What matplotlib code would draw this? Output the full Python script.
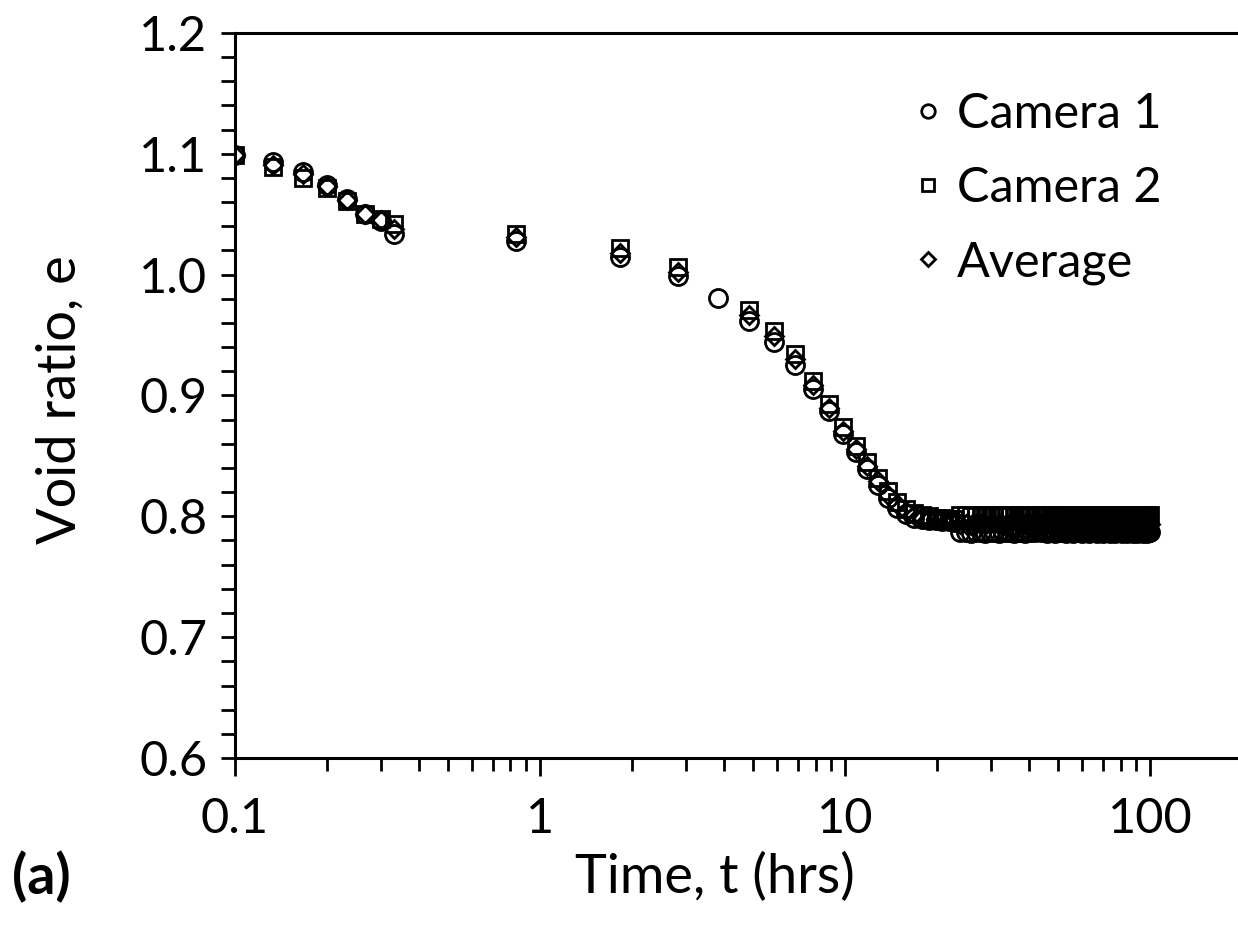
import numpy as np
import matplotlib
matplotlib.use('Agg')
import matplotlib.pyplot as plt
from matplotlib.ticker import MultipleLocator, LogLocator, FuncFormatter

plt.rcParams['font.family'] = ['Lato', 'DejaVu Sans']

# time in hours
t_early = [0.1, 0.133, 0.167, 0.2, 0.233, 0.267, 0.3, 0.333, 0.833, 1.833, 2.833]
t_mid = [3.833]  # camera 1 only
t_late = [4.83, 5.83, 6.83, 7.83, 8.83, 9.83, 10.83, 11.83, 12.83, 13.83,
          14.83, 15.83, 16.83, 17.83, 18.83, 19.83, 20.83, 21.83, 22.83, 23.83,
          24.83, 25.83, 26.83, 27.83, 28.83, 29.83, 30.83, 31.83, 32.83, 33.83,
          34.83, 35.83, 36.83, 37.83, 38.83, 39.83, 40.83, 41.83, 42.83, 43.83,
          44.83, 45.83, 46.83, 47.83, 48.83, 49.83, 50.83, 51.83, 52.83, 53.83,
          54.83, 55.83, 56.83, 57.83, 58.83, 59.83, 60.83, 61.83, 62.83, 63.83,
          64.83, 65.83, 66.83, 67.83, 68.83, 69.83, 70.83, 71.83, 72.83, 73.83,
          74.83, 75.83, 76.83, 77.83, 78.83, 79.83, 80.83, 81.83, 82.83, 83.83,
          84.83, 85.83, 86.83, 87.83, 88.83, 89.83, 90.83, 91.83, 92.83, 93.83,
          94.83, 95.83, 96.83, 97.83, 98.83, 99.83]

# void ratio, camera 1
e1_early = [1.099, 1.093, 1.085, 1.074, 1.063, 1.050, 1.044, 1.034, 1.028, 1.015, 0.999]
e1_mid = [0.981]
e1_late = [0.962, 0.944, 0.925, 0.905, 0.887, 0.868, 0.853, 0.839, 0.826, 0.815,
           0.807, 0.802, 0.799, 0.798, 0.797, 0.797, 0.796, 0.796, 0.795, 0.787,
           0.787, 0.786, 0.787, 0.787, 0.786, 0.787, 0.787, 0.786, 0.787, 0.787,
           0.787, 0.786, 0.787, 0.787, 0.786, 0.787, 0.787, 0.787, 0.788, 0.787,
           0.787, 0.786, 0.787, 0.787, 0.786, 0.787, 0.787, 0.787, 0.786, 0.787,
           0.787, 0.786, 0.787, 0.787, 0.787, 0.786, 0.787, 0.787, 0.786, 0.787,
           0.787, 0.787, 0.786, 0.787, 0.787, 0.786, 0.787, 0.787, 0.787, 0.786,
           0.787, 0.787, 0.786, 0.787, 0.787, 0.787, 0.786, 0.787, 0.787, 0.786,
           0.787, 0.787, 0.787, 0.786, 0.787, 0.787, 0.786, 0.787, 0.787, 0.787,
           0.786, 0.787, 0.787, 0.786, 0.787, 0.787]

# void ratio, camera 2
e2_early = [1.099, 1.089, 1.080, 1.072, 1.061, 1.050, 1.046, 1.042, 1.034, 1.022, 1.006]
e2_late = [0.971, 0.953, 0.934, 0.912, 0.893, 0.874, 0.858, 0.845, 0.832, 0.821,
           0.812, 0.806, 0.803, 0.801, 0.800, 0.799, 0.799, 0.798, 0.798, 0.801,
           0.801, 0.800, 0.801, 0.801, 0.800, 0.801, 0.801, 0.801, 0.800, 0.801,
           0.801, 0.800, 0.801, 0.801, 0.801, 0.800, 0.801, 0.801, 0.800, 0.801,
           0.801, 0.801, 0.800, 0.801, 0.801, 0.800, 0.801, 0.801, 0.801, 0.800,
           0.801, 0.801, 0.800, 0.801, 0.801, 0.801, 0.800, 0.801, 0.801, 0.800,
           0.801, 0.801, 0.801, 0.800, 0.801, 0.801, 0.800, 0.801, 0.801, 0.801,
           0.800, 0.801, 0.801, 0.800, 0.801, 0.801, 0.801, 0.800, 0.801, 0.801,
           0.800, 0.801, 0.801, 0.801, 0.800, 0.801, 0.801, 0.800, 0.801, 0.801,
           0.801, 0.800, 0.801, 0.801, 0.800, 0.801]

# average
ea_early = [1.099, 1.091, 1.083, 1.073, 1.062, 1.050, 1.045, 1.038, 1.031, 1.018, 1.002]
ea_late = [0.967, 0.949, 0.930, 0.909, 0.890, 0.871, 0.856, 0.842, 0.829, 0.818,
           0.810, 0.804, 0.801, 0.799, 0.798, 0.798, 0.797, 0.797, 0.797, 0.794,
           0.794, 0.793, 0.794, 0.794, 0.793, 0.794, 0.794, 0.794, 0.793, 0.794,
           0.794, 0.793, 0.794, 0.794, 0.794, 0.793, 0.794, 0.794, 0.794, 0.794,
           0.794, 0.794, 0.793, 0.794, 0.794, 0.793, 0.794, 0.794, 0.794, 0.793,
           0.794, 0.794, 0.793, 0.794, 0.794, 0.794, 0.793, 0.794, 0.794, 0.793,
           0.794, 0.794, 0.794, 0.793, 0.794, 0.794, 0.793, 0.794, 0.794, 0.794,
           0.793, 0.794, 0.794, 0.793, 0.794, 0.794, 0.794, 0.793, 0.794, 0.794,
           0.793, 0.794, 0.794, 0.794, 0.793, 0.794, 0.794, 0.793, 0.794, 0.794,
           0.794, 0.793, 0.794, 0.794, 0.793, 0.794]

t1 = t_early + t_mid + t_late
e1 = e1_early + e1_mid + e1_late
t2 = t_early + t_late
e2 = e2_early + e2_late
ea = ea_early + ea_late

fs = 35
fs_lab = 39
fig = plt.figure(figsize=(12.38, 9.32), dpi=100)
ax = fig.add_axes([235/1238, 174/932, 1007/1238, 725/932])

ax.plot(t1, e1, 'o', mfc='none', mec='black', ms=13, mew=2.0, label='Camera 1')
ax.plot(t2, e2, 's', mfc='none', mec='black', ms=12, mew=2.0, label='Camera 2')
ax.plot(t2, ea, 'D', mfc='none', mec='black', ms=9.5, mew=2.0, label='Average')

ax.set_xscale('log')
ax.set_xlim(0.1, 200)
ax.set_ylim(0.6, 1.2)

ax.yaxis.set_major_locator(MultipleLocator(0.1))
ax.yaxis.set_minor_locator(MultipleLocator(0.02))
ax.yaxis.set_major_formatter(FuncFormatter(lambda v, p: f'{v:.1f}'))
ax.xaxis.set_major_locator(LogLocator(base=10))
ax.xaxis.set_minor_locator(LogLocator(base=10, subs=np.arange(2, 10)))
ax.xaxis.set_major_formatter(FuncFormatter(lambda v, p: f'{v:g}'))

for s in ax.spines.values():
    s.set_linewidth(2.2)
ax.spines['right'].set_visible(False)

ax.tick_params(axis='both', which='both', direction='out', width=2.0, labelsize=fs)
ax.tick_params(axis='x', which='major', length=13, pad=15)
ax.tick_params(axis='x', which='minor', length=9.5)
ax.tick_params(axis='y', which='major', length=10, pad=10)
ax.tick_params(axis='y', which='minor', length=10)

ax.set_xlabel('Time, t (hrs)', fontsize=fs_lab, va='top')
ax.xaxis.set_label_coords(0.477, -0.130)
ax.set_ylabel('Void ratio, e', fontsize=fs_lab)
ax.yaxis.set_label_coords(-0.149, 0.494)

ax.legend(loc='upper left', bbox_to_anchor=(916/1238, (932-92)/932),
          bbox_transform=fig.transFigure, frameon=False, fontsize=fs,
          handlelength=0.5, handletextpad=0.35, labelspacing=0.62,
          markerscale=0.75, borderpad=0, borderaxespad=0)

fig.text(12/1238, (932-877)/932, '(a)', fontsize=40, fontweight='bold', va='center')

fig.savefig('out.png', dpi=100)
